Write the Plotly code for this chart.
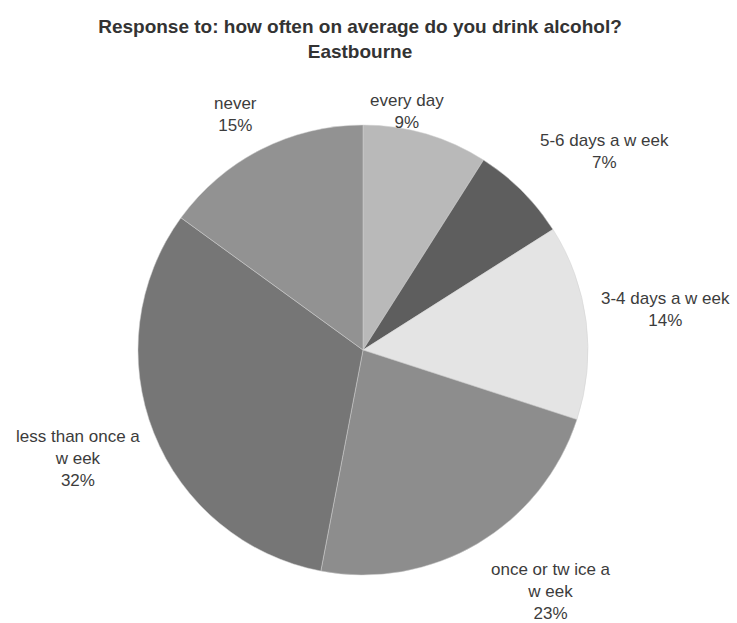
import plotly.graph_objects as go

# Survey answers, clockwise from 12 o'clock
categories = ["every day", "5-6 days a week", "3-4 days a week",
              "once or twice a week", "less than once a week", "never"]
label_text = ["every day", "5-6 days a w eek", "3-4 days a w eek",
              "once or tw ice a<br>w eek", "less than once a<br>w eek", "never"]
percent = [9, 7, 14, 23, 32, 15]
colors = ["#b9b9b9", "#5e5e5e", "#e4e4e4", "#8d8d8d", "#767676", "#929292"]

W, H = 737, 623

fig = go.Figure(go.Pie(
    labels=categories,
    values=percent,
    sort=False,
    direction="clockwise",
    rotation=0,
    marker=dict(colors=colors, line=dict(color="#d0d0d0", width=0.5)),
    textinfo="none",
    hoverinfo="label+percent",
    showlegend=False,
    domain=dict(x=[138 / W, 588 / W], y=[48 / H, 498 / H]),
))

# label anchor points (pixels from top-left), one per category
label_xy = [(407, 111), (604, 152), (665, 309), (551, 591), (78, 458), (235, 115)]

for txt, p, (x, y) in zip(label_text, percent, label_xy):
    fig.add_annotation(
        x=x / W, y=1 - y / H, xref="paper", yref="paper",
        text=f"{txt}<br>{p}%", showarrow=False,
        xanchor="center", yanchor="middle", align="center",
        font=dict(family="Liberation Sans, Arial", size=17, color="#3c3c3c"),
    )

fig.update_layout(
    width=W, height=H,
    margin=dict(l=0, r=0, t=0, b=0),
    paper_bgcolor="white", plot_bgcolor="white",
    title=dict(
        text="<b>Response to: how often on average do you drink alcohol?<br>Eastbourne</b>",
        x=360 / W, xanchor="center", y=1 - 33 / H, yanchor="middle",
        font=dict(family="Liberation Sans, Arial", size=19, color="#333333"),
    ),
)

fig.write_html("out.html")
